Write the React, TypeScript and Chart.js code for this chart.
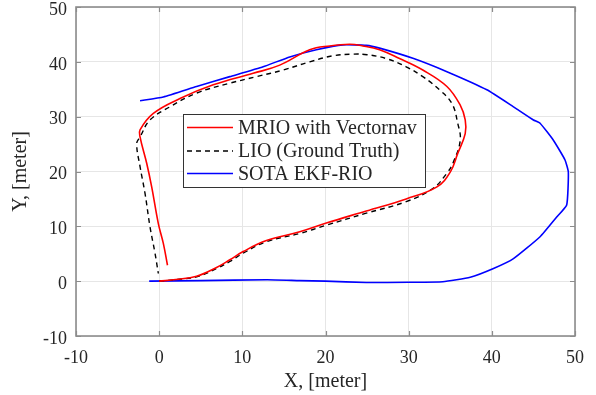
import React, { useEffect, useRef } from "react";
import { Chart, registerables } from "chart.js";

Chart.register(...registerables);

// Ground truth (LIO)
const gtX = [0, 2, 4.5, 6.9, 8.5, 10.1, 12.9, 16.9, 20.1, 24.9, 29.7, 32.9, 34.6, 35.4, 36.2, 35.9, 35.2, 33.7, 31.7, 29.7, 27.3, 25, 23.3, 20.9, 18.1, 14.9, 11.7, 8.5, 4.5, 1.3, -1.1, -2.3, -2.7, -2.3, -1.7, -1.1, -0.5, -0.1];
const gtY = [0, 0.3, 0.8, 2.3, 3.6, 5.1, 7.2, 8.7, 10.2, 12.4, 14.5, 16.9, 19.7, 21.8, 25.7, 28.8, 32.4, 34.9, 37.3, 39.1, 40.6, 41.3, 41.4, 41.1, 40.0, 38.5, 37.3, 36.1, 34.3, 31.8, 29.4, 26.3, 25.1, 20.9, 16.0, 9.9, 5.1, 1.4];

// MRIO with Vectornav
const mrioX = [0, 2, 4.5, 6.9, 8.5, 10.1, 12.9, 16.9, 20.1, 24.9, 29.7, 33.4, 35, 35.9, 36.8, 36.8, 36.2, 34.6, 31.7, 28.9, 26.5, 24.5, 22.9, 20.5, 18.1, 14.5, 11.3, 6.5, 2.5, -0.7, -2.3, -2.3, -1.5, -0.9, -0.1, 0.5, 1.0];
const mrioY = [0, 0.3, 0.9, 2.5, 3.9, 5.4, 7.4, 9.0, 10.6, 12.8, 15.0, 17.2, 19.9, 23.3, 26.9, 29.4, 32.1, 35.5, 38.5, 40.6, 42.2, 42.9, 43.2, 42.9, 42.2, 39.4, 37.9, 35.8, 33.3, 30.6, 27.6, 26.3, 21.5, 17.2, 10.5, 6.9, 2.9];

// SOTA EKF-RIO
const sotaX = [-1.2, 5, 13, 16.9, 20, 24.9, 30, 34.1, 37.4, 40.2, 42.6, 45.8, 47.8, 49.0, 49.2, 48.8, 47.4, 45.8, 45.0, 42.6, 39.4, 34.6, 30.6, 26.5, 24.9, 22.1, 18.9, 15.7, 12.5, 8.5, 4.5, 0.5, -2.3];
const sotaY = [0, 0.1, 0.25, 0.1, 0, -0.25, -0.2, -0.1, 0.7, 2.3, 4.1, 8.1, 11.7, 13.9, 19.9, 22.1, 25.7, 28.8, 29.4, 31.8, 34.9, 38.2, 40.6, 42.5, 43.0, 43.1, 42.2, 40.9, 39.1, 37.3, 35.5, 33.6, 32.9];

const seriesLabels = ["MRIO with Vectornav", "LIO (Ground Truth)", "SOTA EKF-RIO"];
const xTickValues = [-10, 0, 10, 20, 30, 40, 50];
const yTickValues = [-10, 0, 10, 20, 30, 40, 50];
const xTitle = "X, [meter]";
const yTitle = "Y, [meter]";

const FONT = '"Liberation Serif", "DejaVu Serif", serif';
const TEXT = "#262626";
const AXIS = "#8c8c8c";

const toPts = (xs: number[], ys: number[]) => xs.map((x, i) => ({ x, y: ys[i] }));

export default function App() {
  const ref = useRef<HTMLCanvasElement | null>(null);

  useEffect(() => {
    if (!ref.current) return;

    const boxPlugin = {
      id: "boxTicks",
      afterDatasetsDraw(chart: any) {
        const { ctx, chartArea } = chart;
        const { left, right, top, bottom } = chartArea;
        const xs = chart.scales.x;
        const ys = chart.scales.y;
        ctx.save();
        ctx.strokeStyle = AXIS;
        ctx.lineWidth = 1.2;
        ctx.beginPath();
        const tl = 5;
        xTickValues.forEach((v) => {
          const p = Math.round(xs.getPixelForValue(v)) + 0.5;
          ctx.moveTo(p, bottom);
          ctx.lineTo(p, bottom - tl);
          ctx.moveTo(p, top);
          ctx.lineTo(p, top + tl);
        });
        yTickValues.forEach((v) => {
          const p = Math.round(ys.getPixelForValue(v)) + 0.5;
          ctx.moveTo(left, p);
          ctx.lineTo(left + tl, p);
          ctx.moveTo(right, p);
          ctx.lineTo(right - tl, p);
        });
        ctx.stroke();
        ctx.lineWidth = 1.6;
        ctx.strokeRect(left, top, right - left, bottom - top);
        ctx.restore();
      },
    };

    const legendPlugin = {
      id: "innerLegend",
      afterDraw(chart: any) {
        const { ctx } = chart;
        const bx = 183, by = 114, bw = 242, bh = 73;
        ctx.save();
        ctx.fillStyle = "#ffffff";
        ctx.fillRect(bx, by, bw, bh);
        ctx.strokeStyle = "#333333";
        ctx.lineWidth = 1;
        ctx.strokeRect(bx + 0.5, by + 0.5, bw, bh);
        const rows = [127.5, 151, 173.5];
        const colors = ["#ff0000", "#000000", "#0000ff"];
        const dashes = [[], [5, 4], []];
        ctx.font = `20px ${FONT}`;
        ctx.textBaseline = "middle";
        rows.forEach((ry, i) => {
          ctx.beginPath();
          ctx.setLineDash(dashes[i]);
          ctx.strokeStyle = colors[i];
          ctx.lineWidth = 1.6;
          ctx.moveTo(187, ry);
          ctx.lineTo(233, ry);
          ctx.stroke();
          ctx.setLineDash([]);
          ctx.fillStyle = TEXT;
          ctx.fillText(seriesLabels[i], 238, ry + 1);
        });
        ctx.restore();
      },
    };

    const chart = new Chart(ref.current, {
      type: "scatter",
      data: {
        datasets: [
          {
            label: seriesLabels[2],
            data: toPts(sotaX, sotaY),
            showLine: true,
            borderColor: "#0000ff",
            borderWidth: 1.6,
            pointRadius: 0,
            tension: 0.15,
            order: 3,
          },
          {
            label: seriesLabels[1],
            data: toPts(gtX, gtY),
            showLine: true,
            borderColor: "#000000",
            borderWidth: 1.4,
            borderDash: [5, 4],
            pointRadius: 0,
            tension: 0.4,
            order: 2,
          },
          {
            label: seriesLabels[0],
            data: toPts(mrioX, mrioY),
            showLine: true,
            borderColor: "#ff0000",
            borderWidth: 1.6,
            pointRadius: 0,
            tension: 0.4,
            order: 1,
          },
        ],
      },
      options: {
        animation: false,
        responsive: false,
        layout: { padding: { left: 0, right: 21, top: 7, bottom: 0 } },
        plugins: { legend: { display: false }, tooltip: { enabled: false } },
        scales: {
          x: {
            type: "linear",
            min: -10,
            max: 50,
            afterBuildTicks: (s: any) => {
              s.ticks = xTickValues.map((v) => ({ value: v }));
            },
            ticks: { font: { family: FONT, size: 18 }, color: TEXT, padding: 11 },
            grid: { color: "#e6e6e6", drawTicks: false },
            border: { display: false },
            title: {
              display: true,
              text: xTitle,
              color: TEXT,
              font: { family: FONT, size: 20 },
              padding: { top: 0, bottom: 1 },
            },
            afterFit: (s: any) => {
              s.height = 59;
              s.paddingLeft = 0;
              s.paddingRight = 0;
              s.paddingTop = 0;
              s.paddingBottom = 0;
            },
          },
          y: {
            type: "linear",
            min: -10,
            max: 50,
            afterBuildTicks: (s: any) => {
              s.ticks = yTickValues.map((v) => ({ value: v }));
            },
            ticks: { font: { family: FONT, size: 18 }, color: TEXT, padding: 9, labelOffset: 3 },
            grid: { color: "#e6e6e6", drawTicks: false },
            border: { display: false },
            title: {
              display: true,
              text: yTitle,
              color: TEXT,
              font: { family: FONT, size: 20 },
              padding: { top: 9, bottom: 0 },
            },
            afterFit: (s: any) => {
              s.width = 76;
              s.paddingLeft = 0;
              s.paddingRight = 0;
              s.paddingTop = 0;
              s.paddingBottom = 0;
            },
          },
        },
      },
      plugins: [boxPlugin, legendPlugin],
    });

    return () => chart.destroy();
  }, []);

  return (
    <div style={{ position: "absolute", left: 0, top: 0, width: 596, height: 395, background: "#fff" }}>
      <canvas ref={ref} width={596} height={395} style={{ display: "block" }} />
    </div>
  );
}
